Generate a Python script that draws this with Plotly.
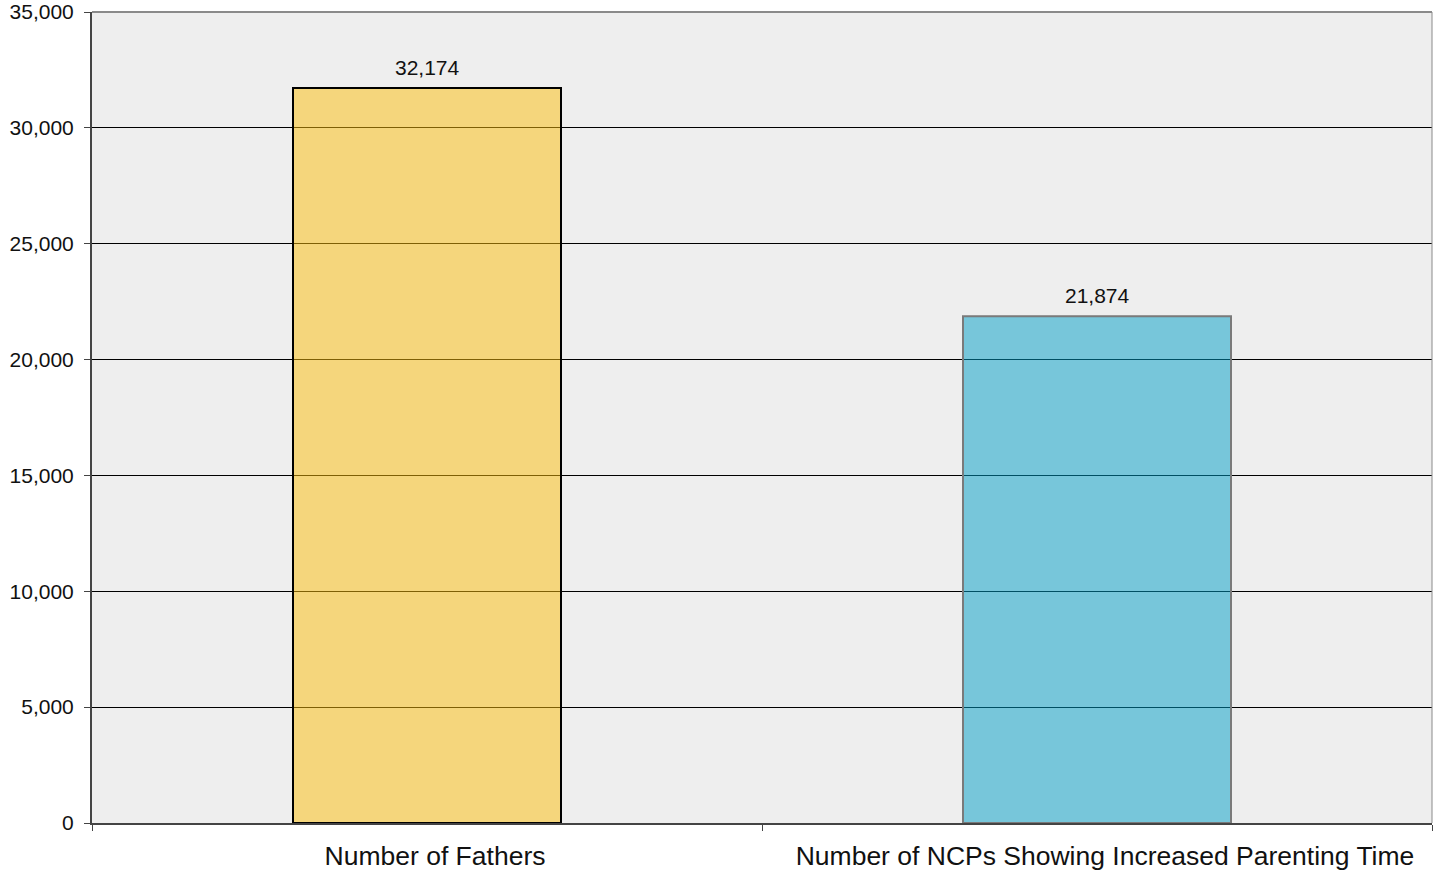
import plotly.graph_objects as go

categories = ["Number of Fathers", "Number of NCPs Showing Increased Parenting Time"]
values = [31720, 21874]
value_labels = ["32,174", "21,874"]
fill_colors = ["rgba(252,190,10,0.5)", "rgba(0,158,198,0.5)"]
edge_colors = ["#000000", "#7a7a7a"]
y_ticks = [0, 5000, 10000, 15000, 20000, 25000, 30000, 35000]

FONT = "Liberation Sans, Arial, sans-serif"

fig = go.Figure()
fig.add_trace(go.Bar(
    x=categories, y=values, width=0.4,
    marker=dict(color=fill_colors, line=dict(color=edge_colors, width=2)),
    hoverinfo="skip",
))
for c, v, t in zip(categories, values, value_labels):
    fig.add_annotation(x=c, y=v, text=t, showarrow=False, yanchor="bottom", yshift=7,
                       font=dict(family=FONT, size=21, color="#111"))

fig.update_layout(
    width=1439, height=874,
    margin=dict(l=92, r=7, t=12, b=51, autoexpand=False),
    plot_bgcolor="#eeeeee", paper_bgcolor="white",
    showlegend=False,
    font=dict(family=FONT, size=21, color="#111"),
    bargap=0.6,
    shapes=[
        dict(type="line", xref="paper", yref="paper", x0=0, x1=1, y0=1, y1=1,
             line=dict(color="#8a8a8a", width=2)),
        dict(type="line", xref="paper", yref="paper", x0=1, x1=1, y0=0, y1=1,
             line=dict(color="#8a8a8a", width=1)),
    ],
)
fig.update_xaxes(
    showgrid=False, showline=True, linecolor="#444", linewidth=2,
    ticks="outside", tickson="boundaries", ticklen=6, tickcolor="#444", tickwidth=1,
    ticklabelshift=8, ticklabelstandoff=8, automargin=False,
    tickfont=dict(size=26.5), fixedrange=True,
)
fig.update_yaxes(
    range=[0, 35000], tickvals=y_ticks, tickformat=",",
    showgrid=True, gridcolor="#000000", gridwidth=1,
    showline=True, linecolor="#444", linewidth=2,
    ticks="outside", ticklen=6, tickcolor="#444", tickwidth=1,
    ticklabelstandoff=6, zeroline=False, automargin=False,
    tickfont=dict(size=21),
)
fig.write_html("out.html", config={"displayModeBar": False},
               post_script="document.body.style.margin='0';")
